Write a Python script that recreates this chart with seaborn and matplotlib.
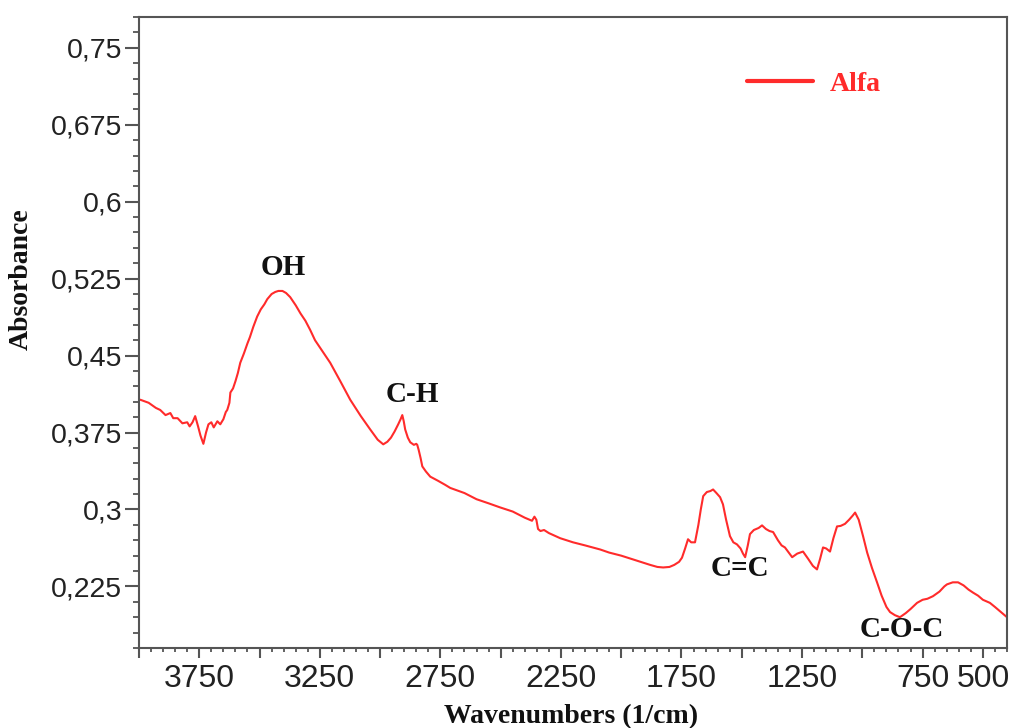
import numpy as np
import pandas as pd
import matplotlib
matplotlib.use("Agg")
import matplotlib.pyplot as plt
from matplotlib.ticker import MultipleLocator, FixedLocator, FixedFormatter
import seaborn as sns

# ---------------- data ----------------
wavenumber = [
    3995, 3960, 3930, 3912, 3890, 3870, 3858, 3840, 3820, 3800, 3790, 3778, 3767,
    3755, 3745, 3733, 3722, 3712, 3700, 3690, 3675, 3663, 3650, 3640, 3634, 3625,
    3621, 3610, 3600, 3590, 3580, 3565, 3550, 3540, 3526, 3510, 3495, 3480, 3468,
    3450, 3435, 3422, 3405, 3390, 3373, 3350, 3330, 3310, 3290, 3270, 3250, 3207,
    3165, 3124, 3080, 3041, 3010, 2987, 2970, 2955, 2940, 2925, 2915, 2908, 2902,
    2896, 2885, 2875, 2860, 2850, 2846, 2840, 2832, 2825, 2810, 2792, 2760, 2730,
    2709, 2650, 2600, 2550, 2502, 2450, 2400, 2370, 2360, 2352, 2345, 2335, 2320,
    2300, 2253, 2200, 2150, 2087, 2050, 2000, 1960, 1921, 1880, 1850, 1826, 1800,
    1780, 1760, 1748, 1735, 1723, 1710, 1694, 1680, 1670, 1660, 1645, 1630, 1619,
    1605, 1590, 1578, 1565, 1549, 1535, 1520, 1505, 1495, 1486, 1475, 1466, 1450,
    1430, 1416, 1400, 1385, 1370, 1350, 1335, 1321, 1305, 1291, 1270, 1246, 1225,
    1205, 1188, 1175, 1163, 1150, 1134, 1120, 1105, 1090, 1072, 1055, 1040, 1030,
    1015, 997, 980, 960, 939, 920, 900, 885, 865, 844, 820, 800, 773, 750, 730,
    707, 680, 660, 649, 625, 603, 580, 560, 541, 520, 500, 471, 450, 430, 410, 400,
]
absorbance = [
    0.407, 0.404, 0.399, 0.397, 0.392, 0.394, 0.389, 0.389, 0.384, 0.385, 0.381, 0.385, 0.391,
    0.381, 0.372, 0.364, 0.375, 0.383, 0.385, 0.380, 0.386, 0.383, 0.388, 0.395, 0.397, 0.404,
    0.414, 0.418, 0.425, 0.433, 0.443, 0.452, 0.462, 0.468, 0.478, 0.488, 0.495, 0.500, 0.505,
    0.510, 0.512, 0.513, 0.513, 0.511, 0.507, 0.499, 0.491, 0.484, 0.475, 0.465, 0.458, 0.443,
    0.425, 0.407, 0.391, 0.378, 0.368, 0.3635, 0.366, 0.370, 0.376, 0.383, 0.388, 0.392, 0.386,
    0.378, 0.370, 0.3655, 0.363, 0.364, 0.363, 0.358, 0.350, 0.342, 0.337, 0.332, 0.328, 0.324,
    0.321, 0.316, 0.310, 0.306, 0.302, 0.298, 0.292, 0.289, 0.293, 0.290, 0.281, 0.279, 0.280,
    0.277, 0.272, 0.268, 0.265, 0.261, 0.258, 0.255, 0.252, 0.249, 0.246, 0.244, 0.2435, 0.244,
    0.246, 0.249, 0.253, 0.262, 0.271, 0.268, 0.268, 0.285, 0.300, 0.313, 0.317, 0.318, 0.3195,
    0.316, 0.312, 0.305, 0.290, 0.274, 0.268, 0.266, 0.262, 0.257, 0.2535, 0.265, 0.276, 0.280,
    0.282, 0.2845, 0.281, 0.279, 0.278, 0.270, 0.265, 0.263, 0.258, 0.2535, 0.257, 0.259, 0.252,
    0.245, 0.2416, 0.252, 0.263, 0.262, 0.259, 0.272, 0.2835, 0.284, 0.286, 0.290, 0.294, 0.297,
    0.290, 0.274, 0.258, 0.243, 0.229, 0.216, 0.205, 0.200, 0.197, 0.195, 0.199, 0.203, 0.209,
    0.212, 0.213, 0.2155, 0.220, 0.225, 0.227, 0.229, 0.229, 0.226, 0.222, 0.219, 0.216, 0.212,
    0.209, 0.205, 0.201, 0.197, 0.195,
]
series_name = "Alfa"

x_major_ticks = [3750, 3250, 2750, 2250, 1750, 1250, 750, 500]
x_tick_labels = ["3750", "3250", "2750", "2250", "1750", "1250", "750", "500"]
y_major_ticks = [0.225, 0.3, 0.375, 0.45, 0.525, 0.6, 0.675, 0.75]
y_tick_labels = ["0,225", "0,3", "0,375", "0,45", "0,525", "0,6", "0,675", "0,75"]

peak_labels = ["OH", "C-H", "C=C", "C-O-C"]
peak_x = [3402, 2867, 1507, 835]
peak_y = [0.536, 0.412, 0.242, 0.183]

# ---------------- figure ----------------
sns.set_theme(style="ticks")
plt.rcParams["font.family"] = ["Liberation Sans", "DejaVu Sans"]

fig = plt.figure(figsize=(10.1, 7.28), dpi=100)
ax = fig.add_axes([139 / 1010, 1 - 648 / 728, 868 / 1010, 631 / 728])

df = pd.DataFrame({"Wavenumber": wavenumber, "Absorbance": absorbance, "Sample": series_name})
red = "#ff2b2b"
sns.lineplot(data=df, x="Wavenumber", y="Absorbance", hue="Sample", palette=[red],
             sort=False, estimator=None, linewidth=1.5, ax=ax)

ax.set_xlim(4000, 400)
ax.set_ylim(0.165, 0.78)

# ticks
spine_col = "#555555"
ax.xaxis.set_major_locator(MultipleLocator(250))
ax.xaxis.set_minor_locator(MultipleLocator(50))
def xfmt(v, pos):
    iv = int(round(v))
    return x_tick_labels[x_major_ticks.index(iv)] if iv in x_major_ticks else ""
ax.xaxis.set_major_formatter(plt.FuncFormatter(xfmt))
ax.yaxis.set_major_locator(FixedLocator(y_major_ticks))
ax.yaxis.set_major_formatter(FixedFormatter(y_tick_labels))
ax.yaxis.set_minor_locator(MultipleLocator(0.015))

ax.tick_params(axis="y", which="major", direction="out", length=10, width=1.5,
               color=spine_col, labelsize=20.5, labelcolor="#222222", pad=2)
ax.tick_params(axis="y", which="minor", direction="out", length=4.5, width=1.3, color=spine_col)
ax.tick_params(axis="x", which="major", direction="out", length=7.5, width=1.5,
               color=spine_col, labelsize=23, labelcolor="#222222", pad=4)
ax.tick_params(axis="x", which="minor", direction="out", length=3, width=1.3, color=spine_col)
for lab in ax.get_xticklabels():
    lab.set_family(["Liberation Sans Narrow", "Liberation Sans", "DejaVu Sans"])

for s in ax.spines.values():
    s.set_visible(True)
    s.set_color(spine_col)
    s.set_linewidth(1.5)

serif_bold = dict(family=["Liberation Serif", "DejaVu Serif"], weight="bold")
ax.set_xlabel("Wavenumbers (1/cm)", fontsize=20, color="#111111", va="center", **serif_bold)
ax.xaxis.set_label_coords(0.498, -0.108)
ax.set_ylabel("Absorbance", fontsize=20, color="#111111", va="center", **serif_bold)
ax.yaxis.set_label_coords(-0.136, 0.584)

for lab, px, py in zip(peak_labels, peak_x, peak_y):
    ax.text(px, py, lab, ha="center", va="center", fontsize=21, color="#111111", **serif_bold)

leg = ax.legend(loc="center left", bbox_to_anchor=(0.70, 0.894), frameon=False,
                borderpad=0, borderaxespad=0, handlelength=2.4, handletextpad=0.6,
                labelcolor="linecolor",
                prop=dict(family="Liberation Serif", weight="bold", size=20))
for h in leg.legend_handles:
    h.set_linewidth(3)

fig.savefig("out.png", dpi=100)
